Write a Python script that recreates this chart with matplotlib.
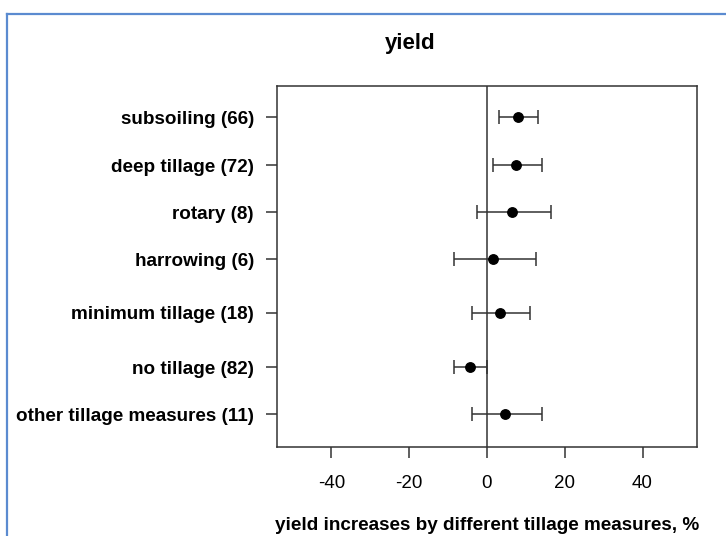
import matplotlib
matplotlib.use("Agg")
import matplotlib.pyplot as plt
from matplotlib.lines import Line2D

plt.rcParams['font.family'] = ['Liberation Sans', 'DejaVu Sans']

# Tillage measures (number of observations in brackets)
measures = ["subsoiling (66)", "deep tillage (72)", "rotary (8)", "harrowing (6)",
            "minimum tillage (18)", "no tillage (82)", "other tillage measures (11)"]
mean_effect = [7.9, 7.4, 6.4, 1.5, 3.3, -4.3, 4.6]
ci_low = [3.1, 1.5, -2.6, -8.6, -3.9, -8.6, -3.9]
ci_high = [13.1, 14.1, 16.5, 12.5, 11.0, 0.0, 14.1]
x_ticks = [-40, -20, 0, 20, 40]

# vertical placement of the rows (top to bottom)
row_pos = [0, 1.01, 2.0, 3.0, 4.12, 5.27, 6.26]

fig = plt.figure(figsize=(7.26, 5.36), dpi=100)
ax = fig.add_axes([277/726, 1-447/536, (697-277)/726, (447-85.5)/536])

ink = "#333333"
ax.axvline(0, color=ink, lw=1.1, zorder=1)
xerr = [[m - lo for m, lo in zip(mean_effect, ci_low)],
        [hi - m for m, hi in zip(mean_effect, ci_high)]]
ax.errorbar(mean_effect, row_pos, xerr=xerr, fmt='o', color='black', ms=6.8,
            ecolor=ink, elinewidth=1.1, capsize=5, capthick=1.1, zorder=3)

ax.set_xlim(-54, 54)
ax.set_ylim(6.95, -0.665)
ax.set_xticks(x_ticks)
ax.set_xticklabels([str(v) for v in x_ticks], fontsize=13.5)
ax.set_yticks(row_pos)
ax.set_yticklabels(measures, fontsize=13.6, fontweight='bold')
ax.tick_params(axis='both', length=8, width=1.1, color=ink)
ax.tick_params(axis='x', pad=12.5)
ax.tick_params(axis='y', pad=8.5)
for s in ax.spines.values():
    s.set_color(ink)
    s.set_linewidth(1.1)

fig.text(487/726, 1-530/536, "yield increases by different tillage measures, %",
         fontsize=13.6, fontweight='bold', ha='center', va='baseline')
fig.text(410/726, 1-43/536, "yield", fontsize=16, fontweight='bold',
         ha='center', va='center')

# frame lines along the left and top edges
blue = "#5b8bd0"
fig.add_artist(Line2D([7/726, 7/726], [0, 1-14/536], transform=fig.transFigure,
                      color=blue, lw=1.6))
fig.add_artist(Line2D([7/726, 1], [1-14/536, 1-14/536], transform=fig.transFigure,
                      color=blue, lw=1.6))

fig.savefig("out.png", dpi=100)
